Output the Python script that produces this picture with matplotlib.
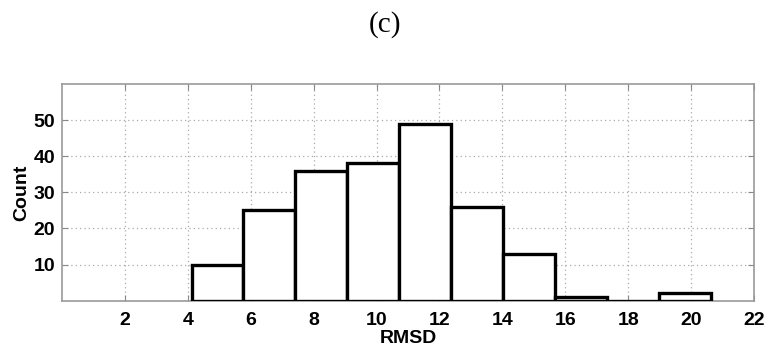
import numpy as np
import matplotlib
matplotlib.use('Agg')
import matplotlib.pyplot as plt

# histogram of RMSD values (MATLAB-style hist, 10 bins)
bin_edges = [4.12, 5.77, 7.42, 9.07, 10.72, 12.37, 14.02, 15.67, 17.32, 18.97, 20.62]
counts = [10, 25, 36, 38, 49, 26, 13, 1, 0, 2]
x_ticks = [2, 4, 6, 8, 10, 12, 14, 16, 18, 20, 22]
y_ticks = [10, 20, 30, 40, 50]

plt.rcParams['font.family'] = ['Liberation Sans', 'DejaVu Sans']

fig = plt.figure(figsize=(7.71, 3.49), dpi=100)
ax = fig.add_axes([0.0804, 0.1384, 0.8976, 0.6209])

edges = np.array(bin_edges)
ax.bar(edges[:-1], counts, width=np.diff(edges), align='edge',
       facecolor='white', edgecolor='black', linewidth=2.4, zorder=3)

ax.set_xlim(0, 22)
ax.set_ylim(0, 60)
ax.set_xticks(x_ticks)
ax.set_yticks(y_ticks)
ax.grid(True, linestyle=(0, (1, 2.5)), color='#aaaaaa', linewidth=0.9, zorder=0)
ax.tick_params(axis='x', pad=8)
ax.tick_params(axis='y', pad=5)
ax.tick_params(direction='in', length=4, color='#888888', top=True, right=True,
               labelsize=14)
for lbl in ax.get_xticklabels() + ax.get_yticklabels():
    lbl.set_fontweight('bold')
for sp in ax.spines.values():
    sp.set_color('#999999')
    sp.set_linewidth(1.2)

ax.set_xlabel('RMSD', fontsize=14, fontweight='bold', labelpad=1)
ax.set_ylabel('Count', fontsize=14, fontweight='bold', labelpad=2)

fig.text(0.5, 0.93, '(c)', ha='center', va='center', fontsize=21,
         family='Liberation Serif')

fig.savefig('out.png', dpi=100, facecolor='white')
